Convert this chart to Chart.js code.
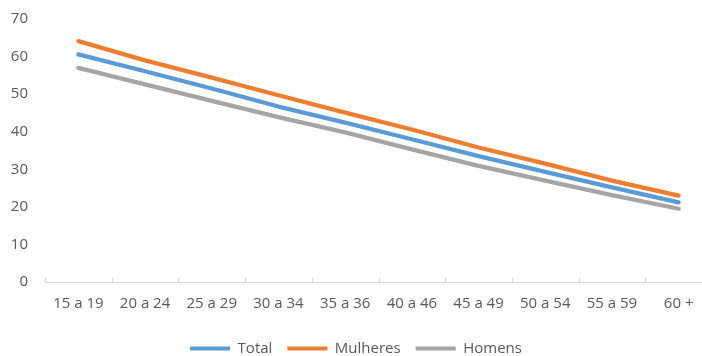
<!DOCTYPE html>
<html>
<head>
<meta charset="utf-8">
<script src="https://cdn.jsdelivr.net/npm/chart.js@4"></script>
<style>
  html, body { margin: 0; padding: 0; background: #ffffff; overflow: hidden; }
  #wrap { width: 722px; height: 356px; }
</style>
</head>
<body>
<div id="wrap"><canvas id="chart" width="722" height="356"></canvas></div>
<script>
// Age groups on the horizontal axis
const ageGroups = ["15 a 19", "20 a 24", "25 a 29", "30 a 34", "35 a 36", "40 a 46", "45 a 49", "50 a 54", "55 a 59", "60 +"];

// Series values per age group
const totalValues    = [60.6, 56.1, 51.5, 46.7, 42.4, 38.0, 33.5, 29.3, 25.2, 21.2];
const mulheresValues = [64.1, 59.0, 54.4, 49.7, 45.1, 40.6, 35.8, 31.5, 27.0, 23.0];
const homensValues   = [57.0, 52.6, 48.2, 43.9, 39.8, 35.3, 30.9, 27.0, 23.1, 19.5];

// Vertical axis range
const yMin = 0, yMax = 70, yStep = 10;

const textColor = '#595959';
const axisColor = '#D9D9D9';
const fontFamily = '"Open Sans", "Liberation Sans", sans-serif';

// Small upward tick marks between categories on the x axis
const categoryTicks = {
  id: 'categoryTicks',
  afterDraw(chart) {
    const xs = chart.scales.x;
    const ctx = chart.ctx;
    const y = xs.top;
    ctx.save();
    ctx.strokeStyle = axisColor;
    ctx.lineWidth = 1;
    ctx.beginPath();
    for (let i = 0; i <= ageGroups.length; i++) {
      const x = Math.round(xs.getPixelForValue(i - 0.5)) + 0.5;
      ctx.moveTo(x, y - 4);
      ctx.lineTo(x, y);
    }
    ctx.stroke();
    ctx.restore();
  }
};

const mkSet = (label, data, color) => ({
  label, data,
  borderColor: color,
  backgroundColor: color,
  borderWidth: 4.3,
  borderCapStyle: 'round',
  borderJoinStyle: 'round',
  pointRadius: 0,
  pointHoverRadius: 0,
  tension: 0,
  fill: false
});

new Chart(document.getElementById('chart'), {
  type: 'line',
  data: {
    labels: ageGroups,
    datasets: [
      mkSet('Total', totalValues, '#5B9BD5'),
      mkSet('Mulheres', mulheresValues, '#ED7D31'),
      mkSet('Homens', homensValues, '#A5A5A5')
    ]
  },
  options: {
    responsive: false,
    animation: false,
    layout: { padding: { top: 19, right: 10, bottom: -10, left: 0 } },
    plugins: {
      tooltip: { enabled: false },
      legend: {
        position: 'bottom',
        labels: {
          color: textColor,
          font: { family: fontFamily, size: 15 },
          boxWidth: 40,
          boxHeight: 4,
          padding: 15,
          generateLabels(chart) {
            return chart.data.datasets.map((ds, i) => ({
              text: ds.label,
              fillStyle: ds.borderColor,
              strokeStyle: ds.borderColor,
              lineWidth: 0,
              fontColor: textColor,
              hidden: false,
              datasetIndex: i
            }));
          }
        }
      }
    },
    scales: {
      x: {
        offset: true,
        grid: { display: false, drawTicks: false, offset: true },
        border: { display: true, color: axisColor, width: 1 },
        ticks: {
          color: textColor,
          font: { family: fontFamily, size: 15 },
          padding: 13,
          maxRotation: 0,
          autoSkip: false
        }
      },
      y: {
        min: yMin, max: yMax,
        grid: { display: false, drawTicks: false },
        border: { display: false },
        ticks: {
          stepSize: yStep,
          color: textColor,
          font: { family: fontFamily, size: 15 },
          padding: 17
        },
        afterFit(s) { s.width = 45; s.paddingTop = 0; s.paddingBottom = 0; }
      }
    }
  },
  plugins: [categoryTicks]
});
</script>
</body>
</html>
